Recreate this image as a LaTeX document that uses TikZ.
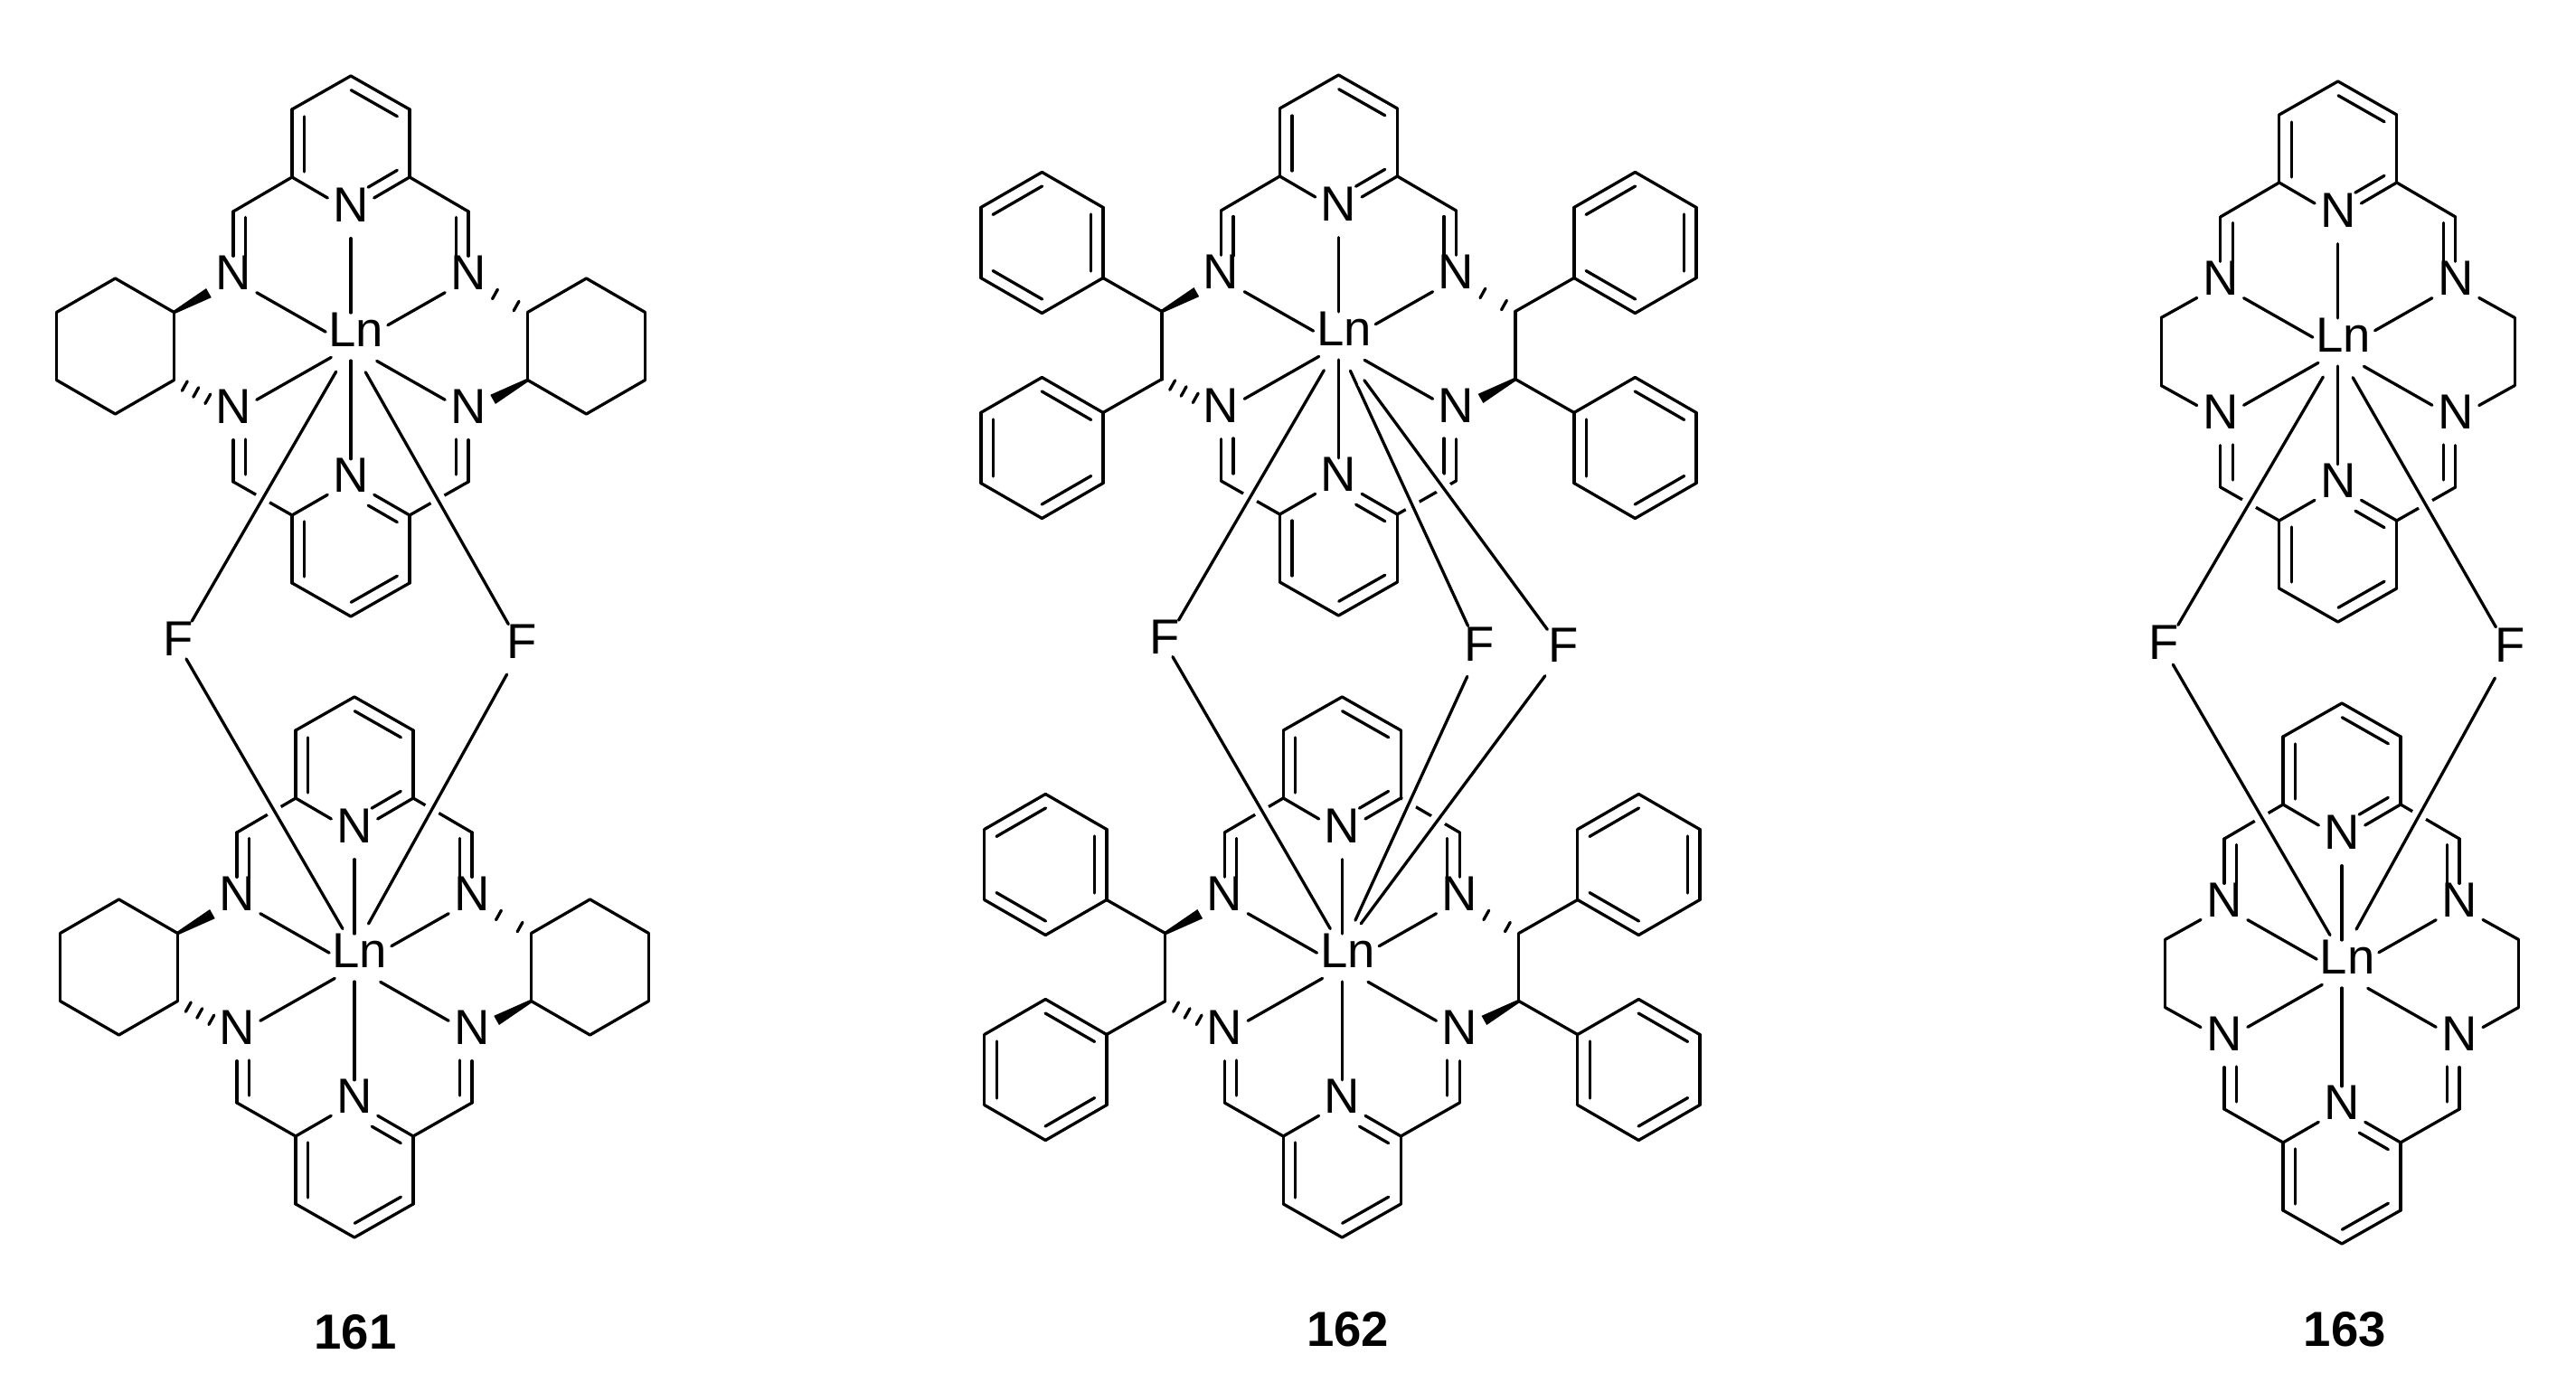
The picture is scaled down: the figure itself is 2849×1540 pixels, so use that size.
\documentclass[tikz,border=0pt]{standalone}
\usepackage{fontspec}
\setmainfont{Liberation Sans}
\usetikzlibrary{calc}

\tikzset{
    bond/.style={line width=0.033cm, line cap=round},
    fbond/.style={line width=0.033cm, line cap=round},
    fhalo/.style={line width=0.17cm, white},
    atomtext/.style={inner sep=0pt, font=\fontsize{15.5}{18}\selectfont},
    atomN/.style={circle, inner sep=0pt, minimum size=0.58cm, label={[atomtext, yshift=0.07cm]center:N}},
    atomF/.style={inner sep=0pt, minimum size=0pt, label={[atomtext, yshift=0.07cm]center:F}},
    numlabel/.style={inner sep=0pt, font=\fontsize{15.5}{18}\selectfont\bfseries}
}

% inner line of a double bond, on the left of the way from #1 to #2
\newcommand{\dbond}[4]{\draw[bond, shorten <=#3, shorten >=#4] ($(#1)!0.135cm!90:(#2)$) -- ($(#2)!0.135cm!-90:(#1)$);}
\newcommand{\wedgebond}[2]{\fill ($(#1)!0.018cm!90:(#2)$) -- ($(#2)!0.31cm!(#1)!0.058cm!-90:(#1)$) -- ($(#2)!0.31cm!(#1)!0.058cm!90:(#1)$) -- ($(#1)!0.018cm!-90:(#2)$) -- cycle;}
\newcommand{\hashbond}[3]{\foreach \h in {#3} {\draw[bond] ($(#1)!\h!(#2)!0.06cm!90:(#2)$) -- ($(#1)!\h!(#2)!0.06cm!-90:(#2)$);}}
\newcommand{\hexring}[4]{
    \foreach \v/\ang in {a/30, b/90, c/150, d/210, e/270, f/330} {\coordinate (#1\v) at ([shift={(-\ang:#4)}]#2,#3);}
    \foreach \p/\q in {a/b, b/c, c/d, d/e, e/f, f/a} {\draw[bond] (#1\p) -- (#1\q);}
}

\begin{document}
\begin{tikzpicture}[x=0.01cm, y=-0.01cm]
    \path[use as bounding box, fill=white] (0,0) rectangle (2849,1540);

    % 1. Metal, two pyridines and four imines of every half
    \foreach \m/\hx/\hy in {a/388/383, b/392/1070, c/1480.4/382, d/1484.3/1070, e/2585.7/389, f/2590/1077} {
        \begin{scope}[shift={(\hx,\hy)}]
            \coordinate (\m Ln) at (0,0);
            \coordinate (\m LnF) at (0,-20);
            \node[atomtext] (\m LnLabel) at (6,-18.5) {Ln};
            \foreach \n/\px/\py in {pT/0/-299, pTL/-65/-262, pTR/65/-262, pML/-65/-187, pMR/65/-187,
                qML/-65/187, qMR/65/187, qBL/-65/262, qBR/65/262, qB/0/299,
                iTL/-130/-149, iTR/130/-149, iBL/-130/150, iBR/130/150,
                CTL/-195.5/-37.5, CBL/-195.5/37.5, CTR/195.5/-37.5, CBR/195.5/37.5}
                \coordinate (\m\n) at (\px,\py);
            \foreach \n/\px/\py in {NT/0/-149, NTL/-130/-74, NTR/130/-74, NBL/-130/74, NBR/130/74, NB/0/149.5}
                \node[atomN] (\m\n) at (\px,\py) {};
        \end{scope}
        % rings and imine arms
        \foreach \s/\e in {pT/pTL, pTL/pML, pML/NT, NT/pMR, pMR/pTR, pTR/pT, pML/iTL, pMR/iTR,
            NB/qML, qML/qBL, qBL/qB, qB/qBR, qBR/qMR, qMR/NB, qML/iBL, qMR/iBR, NBL/iBL, NBR/iBR}
            \draw[bond] (\m\s) -- (\m\e);
        \draw[bond, shorten >=-0.04cm] (\m iTL) -- (\m NTL);
        \draw[bond, shorten >=-0.04cm] (\m iTR) -- (\m NTR);
        % double bonds
        \dbond{\m pTL}{\m pML}{0.8mm}{0.6mm}
        \dbond{\m pTR}{\m pT}{0.8mm}{0.8mm}
        \dbond{\m NT}{\m pMR}{3mm}{0.8mm}
        \dbond{\m qML}{\m qBL}{0.7mm}{0.7mm}
        \dbond{\m qB}{\m qBR}{0.8mm}{0.8mm}
        \dbond{\m qMR}{\m NB}{0.8mm}{3mm}
        \dbond{\m iTL}{\m NTL}{0.65mm}{2.5mm}
        \dbond{\m NTR}{\m iTR}{2.5mm}{0.65mm}
        \dbond{\m NBL}{\m iBL}{2.9mm}{0.8mm}
        \dbond{\m iBR}{\m NBR}{0.8mm}{2.9mm}
        % coordination bonds
        \foreach \s/\g in {NT/3.7mm, NTL/3.2mm, NTR/4.7mm, NBL/2.5mm, NBR/3.3mm}
            \draw[bond, shorten >=\g] (\m\s) -- (\m Ln);
        \draw[bond, shorten <=-0.05cm, shorten >=1.6mm] (\m NB) -- (\m Ln);
    }

    % 2. Cyclohexane bridges (161)
    \foreach \m/\hx/\hy in {a/388/383, b/392/1070} {
        \begin{scope}[shift={(\hx,\hy)}]
            \hexring{\m CL}{-260.5}{0}{75}
            \hexring{\m CR}{260.5}{0}{75}
        \end{scope}
        \wedgebond{\m CTL}{\m NTL}
        \hashbond{\m CBL}{\m NBL}{0.18, 0.37, 0.57}
        \hashbond{\m CTR}{\m NTR}{0.19, 0.55}
        \wedgebond{\m CBR}{\m NBR}
    }

    % 3. Diphenylethane bridges (162)
    \foreach \m/\hx/\hy in {c/1480.4/382, d/1484.3/1070} {
        \begin{scope}[shift={(\hx,\hy)}]
            \hexring{\m PA}{-328}{-113.5}{78}
            \hexring{\m PB}{-328}{113.5}{78}
            \hexring{\m PC}{328}{-113.5}{78}
            \hexring{\m PD}{328}{113.5}{78}
        \end{scope}
        \foreach \r/\s/\e in {PA/f/a, PA/b/c, PA/d/e, PB/a/b, PB/c/d, PB/e/f, PC/b/c, PC/f/a, PC/d/e, PD/a/b, PD/e/f, PD/c/d}
            \dbond{\m\r\s}{\m\r\e}{0.75mm}{0.75mm}
        \draw[bond] (\m CTL) -- (\m CBL);
        \draw[bond] (\m CTR) -- (\m CBR);
        \draw[bond] (\m CTL) -- (\m PAf);
        \draw[bond] (\m CBL) -- (\m PBa);
        \draw[bond] (\m CTR) -- (\m PCd);
        \draw[bond] (\m CBR) -- (\m PDc);
        \wedgebond{\m CTL}{\m NTL}
        \hashbond{\m CBL}{\m NBL}{0.18, 0.37, 0.57}
        \hashbond{\m CTR}{\m NTR}{0.19, 0.55}
        \wedgebond{\m CBR}{\m NBR}
    }

    % 4. Ethane bridges (163)
    \foreach \m in {e, f} {
        \foreach \s/\e in {NTL/CTL, CTL/CBL, CBL/NBL, NTR/CTR, CTR/CBR, CBR/NBR}
            \draw[bond] (\m\s) -- (\m\e);
    }

    % 5. Fluorine atoms and their long bonds
    \node[atomF] (aFL) at (197,713.5) {};
    \node[atomF] (aFR) at (577,716.5) {};
    \node[atomF] (cF0) at (1288.5,712) {};
    \node[atomF] (cF1) at (1636,719.5) {};
    \node[atomF] (cF2) at (1729,720.5) {};
    \node[atomF] (eFL) at (2393.3,718) {};
    \node[atomF] (eFR) at (2775.7,720.5) {};

    % upper halves, each line over the one before
    \foreach \s/\e/\ga/\gb in {aFL/aLn/2.95mm/3.25mm, aFR/aLn/2.9mm/3.3mm,
        cF0/cLn/2.9mm/3.2mm, cF1/cLn/2.9mm/3.1mm, cF2/cLn/2.9mm/4.8mm,
        eFL/eLn/3mm/3.25mm, eFR/eLn/3mm/3.3mm} {
        \draw[fhalo, shorten <=\ga, shorten >=\gb] (\s) -- (\e);
        \draw[fbond, shorten <=\ga, shorten >=\gb] (\s) -- (\e);
    }
    % lower halves
    \foreach \st in {fhalo, fbond} {
        \foreach \s/\e/\ga/\gb in {aFL/bLnF/1.7mm/2.6mm, aFR/bLnF/3.3mm/3.2mm,
            cF0/dLnF/1.6mm/2.6mm, cF1/dLnF/3.1mm/3.5mm, cF2/dLnF/3.3mm/3.5mm,
            eFL/fLnF/1.9mm/2.6mm, eFR/fLnF/3.3mm/3.3mm}
            \draw[\st, shorten <=\ga, shorten >=\gb] (\s) -- (\e);
    }

    % 6. Compound numbers
    \node[numlabel] (lbl161) at (393,1474) {161};
    \node[numlabel] (lbl162) at (1490.5,1470.4) {162};
    \node[numlabel] (lbl163) at (2593.3,1470.4) {163};
\end{tikzpicture}
\end{document}
